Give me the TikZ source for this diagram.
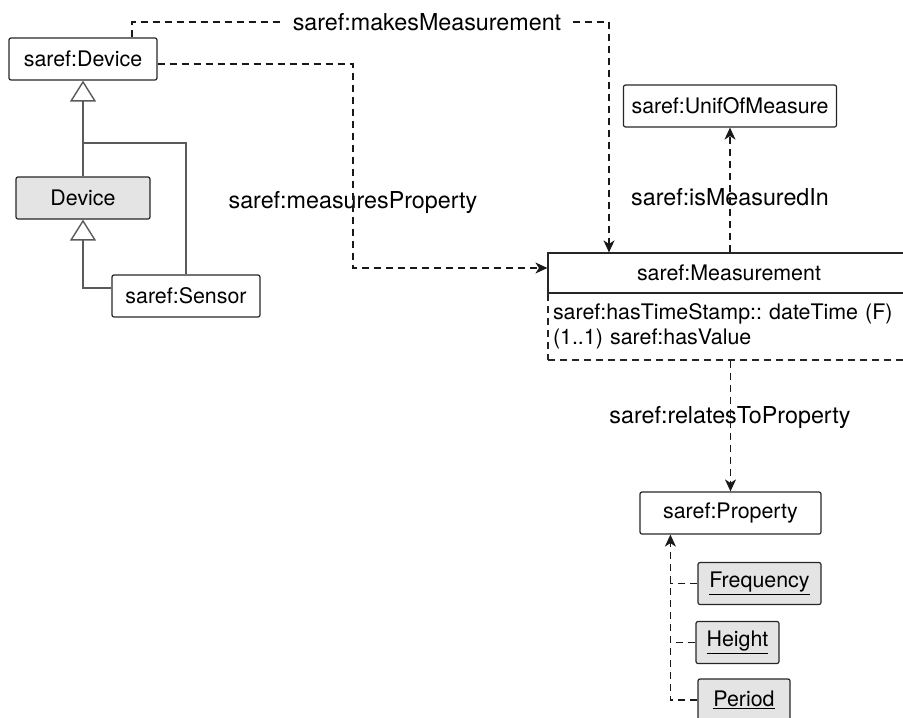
\documentclass[tikz,border=0pt]{standalone}
\usepackage{fontspec}
\setmainfont{TeX Gyre Heros}
\usetikzlibrary{arrows.meta}
\usetikzlibrary{positioning}

\definecolor{boxgray}{HTML}{E4E4E4}
\definecolor{isagray}{HTML}{5A5A5A}

\tikzset{
  cls/.style={draw=black!85, line width=1.2pt, rounded corners=2pt, inner sep=0pt, minimum height=42pt},
  inst/.style={cls, fill=boxgray},
  lbl/.style={inner sep=0pt, font=\fontsize{23.3}{28}\selectfont},
  link/.style={draw=black!90, line width=1.4pt, dash pattern=on 7pt off 5pt},
  linkto/.style={link, -{Stealth[length=12pt,width=11pt,inset=3.5pt]}},
  gen/.style={draw=isagray, line width=1.4pt},
  isa/.style={gen, -{Triangle[open,fill=white,length=21pt,width=26pt]}},
}

\begin{document}
\frenchspacing
\begin{tikzpicture}[x=1pt,y=-1pt,font=\fontsize{21.4}{25}\selectfont]
	\useasboundingbox (0,0) rectangle (903,718);

	\node[cls, minimum width=148pt] (dev) at (83,59) {saref:Device};
	\node[inst, minimum width=134pt] (devg) at (83,198) {Device};
	\node[cls, minimum width=148pt] (sens) at (186,296) {saref:Sensor};
	\node[cls, minimum width=213pt] (unit) at (730,106) {saref:UnifOfMeasure};

	\node[draw=black!85, line width=1.2pt, dash pattern=on 7pt off 5pt, inner xsep=5pt, inner ysep=0pt,
	  text width=352pt, align=left, minimum height=67pt] (measattr) at (729,326.5)
	  {saref:hasTimeStamp:: dateTime (F)\\(1..1) saref:hasValue};
	\node[draw=black!85, line width=1.2pt, fill=white, inner sep=0pt, minimum width=362pt,
	  minimum height=40pt] (meas) at (729,273) {saref:Measurement};

	\node[cls, minimum width=181pt] (prop) at (730.5,513) {saref:Property};
	\node[inst, minimum width=123pt] (freq) at (759.5,583.5) {\underline{Frequency}};
	\node[inst, minimum width=83pt] (hgt) at (737.5,642.5) {\underline{Height}};
	\node[inst, minimum width=92pt] (per) at (744,700) {\underline{Period}};

	\node[lbl, inner xsep=12pt, fill=white] (mmlbl) at (427,22) {saref:makesMeasurement};
	\node[lbl] (mplbl) at (353,203) {saref:measuresProperty};
	\node[lbl] (milbl) at (730,197) {saref:isMeasuredIn};
	\node[lbl] (rplbl) at (730,418) {saref:relatesToProperty};

	% object properties
	\draw[link] ([xshift=49pt]dev.north) |- (mmlbl.west);
	\draw[linkto] (mmlbl.east) -| ([xshift=-120pt]meas.north);
	\coordinate (mpbend) at (353,268);
	\draw[linkto] ([yshift=-5pt]dev.east) -| (mpbend) -- (meas.west |- mpbend);
	\draw[linkto] (unit.south |- meas.north) -- (unit.south);
	\draw[linkto] (prop.north |- measattr.south) -- (prop.north);

	% instances of saref:Property
	\coordinate (pv) at ([xshift=31pt]prop.south west);
	\draw[linkto] (per.west) -| (pv);
	\draw[link] (freq.west) -- (freq.west -| pv);
	\draw[link] (hgt.west) -- (hgt.west -| pv);

	% subclasses
	\coordinate (isajoin) at (83,143);
	\draw[isa] (devg.north) -- (dev.south);
	\draw[gen] (sens.north) |- (isajoin);
	\draw[isa] ([yshift=8pt]sens.west) -| (devg.south);
\end{tikzpicture}
\end{document}
